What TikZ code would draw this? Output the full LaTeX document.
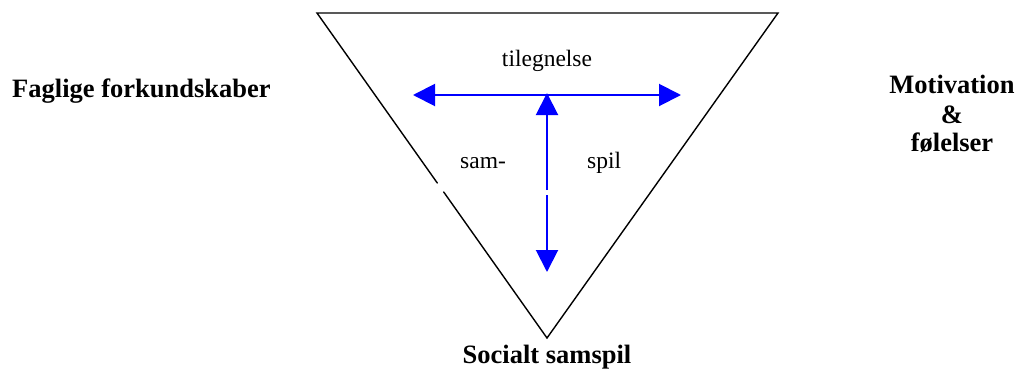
\documentclass[tikz,border=0pt]{standalone}
\usepackage{fontspec}
\setmainfont{Liberation Serif}
\usetikzlibrary{arrows.meta}
\definecolor{arrowblue}{RGB}{0,0,255}
\tikzset{
  edge/.style={line width=1.4pt, black, line cap=round},
  barrow/.style={line width=2pt, arrowblue, -{Triangle[length=22pt,width=22pt]}},
  boldlabel/.style={font=\fontsize{26.5}{29}\selectfont\bfseries, inner sep=0pt, align=center},
  plainlabel/.style={font=\fontsize{23.5}{27}\selectfont, inner sep=0pt}
}
\begin{document}
\begin{tikzpicture}[x=1pt,y=-1pt]
\useasboundingbox (0,0) rectangle (1018,370);
% triangle
\coordinate (tl) at (317,13);
\coordinate (tr) at (778,13);
\coordinate (ap) at (547,338);
\coordinate (g1) at (437.3,183);
\coordinate (g2) at (443.7,192);
\draw[edge] (g1) -- (tl) -- (tr) -- (ap) -- (g2);
% arrows
\coordinate (hl) at (413,95);
\coordinate (hr) at (681,95);
\coordinate (hm) at (547,95);
\coordinate (vt) at (547,93);
\coordinate (v1) at (547,190);
\coordinate (v2) at (547,195);
\coordinate (vb) at (547,272);
\draw[barrow] (hm) -- (hl);
\draw[barrow] (hm) -- (hr);
\draw[barrow] (v1) -- (vt);
\draw[barrow] (v2) -- (vb);
% labels
\node[plainlabel, anchor=base] (til) at (547,66) {tilegnelse};
\node[plainlabel, anchor=base west] (sam) at (460,168) {sam-};
\node[plainlabel, anchor=base west] (spil) at (587,168) {spil};
\node[boldlabel, anchor=base west] (fag) at (12,97) {Faglige forkundskaber};
\node[boldlabel, anchor=base] (mot) at (952,93) {Motivation};
\node[boldlabel, anchor=base] (amp) at (952,123) {\&};
\node[boldlabel, anchor=base] (fol) at (952,151) {følelser};
\node[boldlabel, anchor=base] (soc) at (547,363) {Socialt samspil};
\end{tikzpicture}
\end{document}
